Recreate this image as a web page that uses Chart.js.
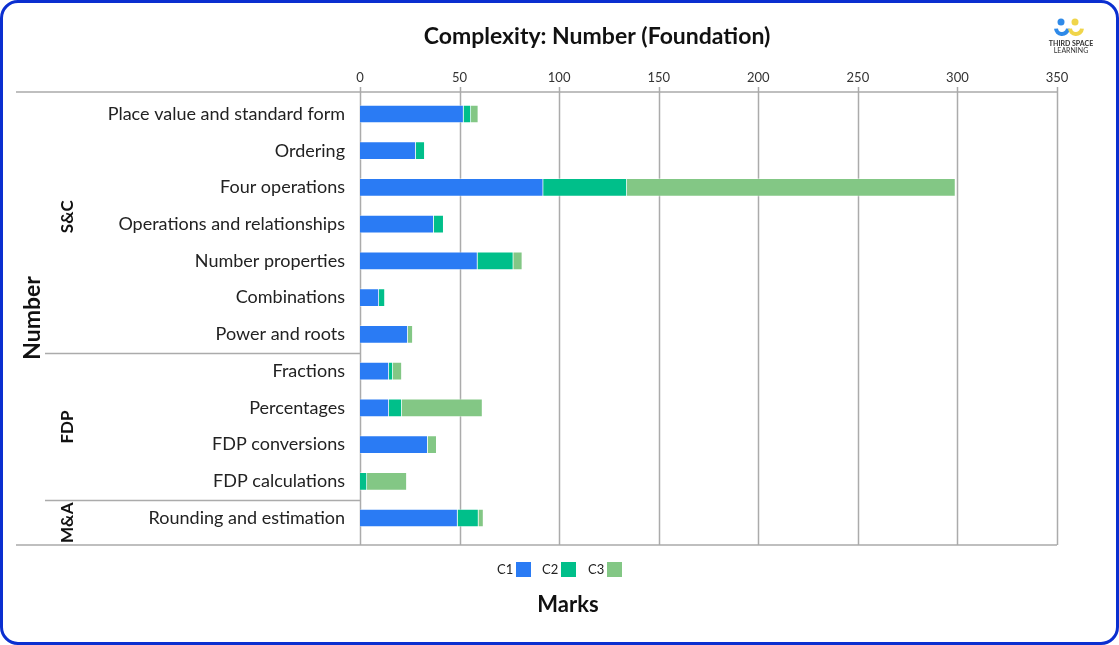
<!DOCTYPE html>
<html>
<head>
<meta charset="utf-8">
<script src="https://cdn.jsdelivr.net/npm/chart.js@4"></script>
<style>
  html, body { margin: 0; padding: 0; background: #fff; }
  #frame {
    position: absolute; left: 0; top: 0; width: 1119px; height: 645px;
    box-sizing: border-box; border: 3px solid #0b2fd0; border-radius: 18px;
  }
  #wrap { position: absolute; left: 0; top: 0; width: 1119px; height: 645px; }
</style>
</head>
<body>
<div id="frame"></div>
<div id="wrap"><canvas id="chart" width="1119" height="645"></canvas></div>
<script>
// Dados
const categories = [
    'Place value and standard form', 'Ordering', 'Four operations',
    'Operations and relationships', 'Number properties', 'Combinations',
    'Power and roots', 'Fractions', 'Percentages', 'FDP conversions',
    'FDP calculations', 'Rounding and estimation'
];
const c1Values = [52, 28, 92, 37, 59, 9.5, 24, 14.5, 14.5, 34, 0, 49];
const c2Values = [3.7, 4.5, 42, 5, 18, 3, 0, 2, 6.5, 0, 3.5, 10.5];
const c3Values = [3.7, 0, 165, 0, 4.5, 0, 2.5, 4.5, 40.5, 4.5, 20, 2.5];
const seriesNames = ['C1', 'C2', 'C3'];
const seriesColors = ['#2a7bf4', '#00bf8a', '#83c785'];
// grupos: nome, primeiro índice, último índice
const groupNames = ['S&C', 'FDP', 'M&A'];
const groupStart = [0, 7, 11];
const groupEnd = [6, 10, 11];
const xMax = 350;
const xStep = 50;

const FONT = 'Lato, "Noto Sans", sans-serif';
const LINE = '#ababab';
const TABLE_TOP = 92;
const TABLE_BOTTOM = 545;

// linhas de grade verticais (ocupam toda a altura da tabela)
const gridPlugin = {
    id: 'gridFull',
    beforeDatasetsDraw(chart) {
        const ctx = chart.ctx;
        const x = chart.scales.x;
        ctx.save();
        ctx.strokeStyle = LINE;
        ctx.lineWidth = 1.5;
        ctx.beginPath();
        x.ticks.forEach(t => {
            const px = Math.round(x.getPixelForValue(t.value)) + 0.5;
            ctx.moveTo(px, TABLE_TOP - 5);
            ctx.lineTo(px, TABLE_BOTTOM);
        });
        ctx.stroke();
        ctx.restore();
    }
};

const decorPlugin = {
    id: 'decor',
    afterDraw(chart) {
        const ctx = chart.ctx;
        const area = chart.chartArea;
        const y = chart.scales.y;
        ctx.save();

        // linhas horizontais da tabela
        ctx.strokeStyle = LINE;
        ctx.lineWidth = 1.5;
        ctx.beginPath();
        ctx.moveTo(16, TABLE_TOP); ctx.lineTo(area.right, TABLE_TOP);
        ctx.moveTo(16, TABLE_BOTTOM); ctx.lineTo(area.right, TABLE_BOTTOM);
        const seps = [TABLE_TOP];
        for (let g = 1; g < groupNames.length; g++) {
            const yy = Math.round((y.getPixelForValue(groupStart[g]) + y.getPixelForValue(groupEnd[g - 1])) / 2) + 0.5;
            seps.push(yy);
            ctx.moveTo(45, yy); ctx.lineTo(area.left, yy);
        }
        seps.push(TABLE_BOTTOM);
        ctx.stroke();

        // rótulos dos grupos (verticais)
        ctx.fillStyle = '#111';
        ctx.textAlign = 'center';
        ctx.textBaseline = 'middle';
        groupNames.forEach((name, g) => {
            ctx.save();
            ctx.translate(68, (seps[g] + seps[g + 1]) / 2 - (g === 0 ? 6 : 0));
            ctx.rotate(-Math.PI / 2);
            ctx.font = 'bold 17px ' + FONT;
            ctx.fillText(name, 0, 0);
            ctx.restore();
        });
        ctx.save();
        ctx.translate(33, 318);
        ctx.rotate(-Math.PI / 2);
        ctx.font = 'bold 23px ' + FONT;
        ctx.fillText('Number', 0, 0);
        ctx.restore();

        // título
        ctx.font = 'bold 23px ' + FONT;
        ctx.fillText('Complexity: Number (Foundation)', 597, 37);

        // título do eixo
        ctx.font = 'bold 22px ' + FONT;
        ctx.fillText('Marks', 568, 605);

        // legenda
        const legendX = [497, 542, 588];
        ctx.font = '13px ' + FONT;
        ctx.textAlign = 'left';
        seriesNames.forEach((name, i) => {
            ctx.fillStyle = '#222';
            ctx.fillText(name, legendX[i], 570);
            ctx.fillStyle = seriesColors[i];
            ctx.fillRect(legendX[i] + 19, 562, 15, 15);
        });

        // logo
        ctx.fillStyle = '#2f8ae8';
        ctx.beginPath(); ctx.arc(1061, 22, 3.5, 0, Math.PI * 2); ctx.fill();
        ctx.fillStyle = '#f0d54a';
        ctx.beginPath(); ctx.arc(1075, 22, 3.5, 0, Math.PI * 2); ctx.fill();
        ctx.lineWidth = 4;
        ctx.strokeStyle = '#2f8ae8';
        ctx.beginPath(); ctx.arc(1062, 28, 6, 0.1, Math.PI - 0.1); ctx.stroke();
        ctx.strokeStyle = '#f0d54a';
        ctx.beginPath(); ctx.arc(1076, 28, 6, 0.1, Math.PI - 0.1); ctx.stroke();
        ctx.textAlign = 'center';
        ctx.fillStyle = '#333';
        ctx.font = 'bold 7px ' + FONT;
        ctx.fillText('THIRD SPACE', 1071, 44);
        ctx.font = '7px ' + FONT;
        ctx.fillText('LEARNING', 1071, 51);

        ctx.restore();
    }
};

const datasets = [c1Values, c2Values, c3Values].map((values, i) => ({
    label: seriesNames[i],
    data: values,
    backgroundColor: seriesColors[i],
    borderColor: 'rgba(255,255,255,0.35)',
    borderWidth: 1,
    barThickness: 18
}));

new Chart(document.getElementById('chart').getContext('2d'), {
    type: 'bar',
    data: { labels: categories, datasets },
    plugins: [gridPlugin, decorPlugin],
    options: {
        responsive: false,
        animation: false,
        indexAxis: 'y',
        layout: { padding: { top: 65.6, right: 62, bottom: 108.6, left: 0 } },
        plugins: {
            legend: { display: false },
            tooltip: { enabled: false },
            title: { display: false }
        },
        scales: {
            x: {
                position: 'top',
                stacked: true,
                min: 0,
                max: xMax,
                afterFit: scale => { scale.height = 30; },
                ticks: { stepSize: xStep, padding: 10, color: '#333', font: { family: FONT, size: 13 } },
                grid: { display: false, drawTicks: false },
                border: { display: false }
            },
            y: {
                stacked: true,
                afterFit: scale => { scale.width = 360; },
                ticks: { padding: 15, color: '#222', font: { family: FONT, size: 18 } },
                grid: { display: false, drawTicks: false },
                border: { display: false }
            }
        }
    }
});
</script>
</body>
</html>
